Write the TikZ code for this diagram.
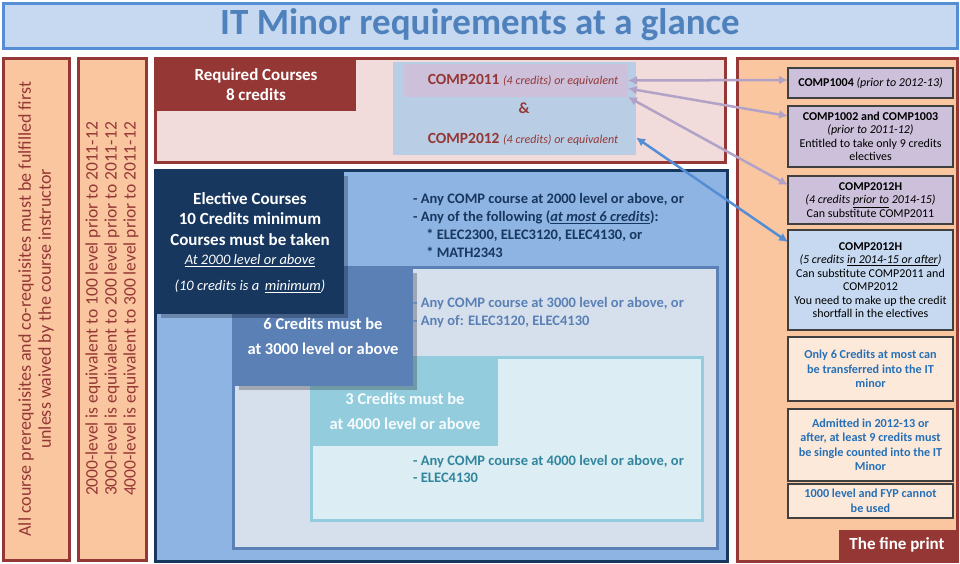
\documentclass[tikz,border=0pt]{standalone}
\usepackage{fontspec}
\setmainfont{Carlito}
\usetikzlibrary{arrows.meta,shadows}

\definecolor{titleblue}{HTML}{4F81BD}
\definecolor{titlefill}{HTML}{C6D9F1}
\definecolor{peach}{HTML}{F9C6A0}
\definecolor{darkred}{HTML}{953735}
\definecolor{reqfill}{HTML}{F2DCDB}
\definecolor{reqblue}{HTML}{B9CDE5}
\definecolor{lilac}{HTML}{CCC0DA}
\definecolor{navy}{HTML}{17375E}
\definecolor{elfill}{HTML}{8EB4E3}
\definecolor{midblue}{HTML}{5A80B5}
\definecolor{greyblue}{HTML}{D6E0EC}
\definecolor{teal}{HTML}{93CDDD}
\definecolor{tealfill}{HTML}{DCEEF4}
\definecolor{tealtext}{HTML}{31859C}
\definecolor{paleblue}{HTML}{C6D9F1}
\definecolor{palepeach}{HTML}{FDE9D9}
\definecolor{noteblue}{HTML}{2570B8}
\definecolor{arrowlilac}{HTML}{B3A2C7}
\definecolor{arrowblue}{HTML}{558ED5}

\newcommand\fsz[2]{\fontsize{#1}{#2}\selectfont}

\tikzset{
  panel/.style={draw, line width=3pt, anchor=north west, inner sep=0pt, outer sep=0pt},
  block/.style={anchor=north west, inner sep=0pt, outer sep=0pt},
  notebox/.style={draw=black!75, line width=1.2pt, anchor=north west, inner sep=0pt,
    outer sep=0pt, minimum width=165pt, align=center, font=\fsz{12}{13.5}},
  finebox/.style={notebox, fill=palepeach, text=noteblue, font=\bfseries\fsz{12.2}{14.5}},
  listtext/.style={anchor=north west, inner sep=0pt, align=left, font=\bfseries\fsz{14.5}{18}},
  link/.style={line width=2.5pt, arrowlilac, {Latex[length=9pt,width=9pt]}-{Latex[length=9pt,width=9pt]}},
  hdshadow/.style={drop shadow={shadow xshift=4pt, shadow yshift=-4pt, opacity=0.25, fill=black}}
}

\begin{document}
\begin{tikzpicture}[x=1pt,y=-1pt]
\useasboundingbox (0,0) rectangle (960,563);

% title
\node[panel, draw=arrowblue, fill=titlefill, minimum width=954pt, minimum height=45pt] (title) at (3,3) {};
\node[text=titleblue, font=\bfseries\fsz{37}{40}] (titletext) at ([yshift=1pt]title.center) {IT Minor requirements at a glance};

% left side notes
\node[panel, draw=darkred, fill=peach, minimum width=66pt, minimum height=502pt] (prereq) at (3,58) {};
\node[rotate=90, align=center, text=darkred, font=\fsz{18}{20}] (prereqtext) at (prereq.center)
  {All course prerequisites and co-requisites must be fulfilled first\\unless waived by the course instructor};
\node[panel, draw=darkred, fill=peach, minimum width=68pt, minimum height=502pt] (levels) at (78,58) {};
\node[rotate=90, align=center, text=darkred, font=\fsz{17.5}{19}] (levelstext) at (levels.center)
  {2000-level is equivalent to 100 level prior to 2011-12\\
   3000-level is equivalent to 200 level prior to 2011-12\\
   4000-level is equivalent to 300 level prior to 2011-12};

% required courses
\node[panel, draw=darkred, fill=reqfill, minimum width=570pt, minimum height=104pt] (req) at (155,58) {};
\node[block, fill=darkred, minimum width=199pt, minimum height=51pt, text=white, align=center,
  font=\bfseries\fsz{17}{20}] (reqhead) at (156.5,59.5) {Required Courses\\8 credits};
\node[block, fill=reqblue, minimum width=243pt, minimum height=93pt] (reqin) at (393,62) {};
\node[block, fill=lilac, minimum width=224pt, minimum height=33pt] (c2011) at (404,64) {};
\node[text=darkred, font=\bfseries\fsz{15.5}{17}] (c2011text) at ([xshift=7pt]c2011.center)
  {COMP2011 {\mdseries\itshape\fsz{12}{13}(4 credits) or equivalent}};
\node[text=darkred, font=\bfseries\fsz{15.5}{17}] (amp) at (524,108) {\&};
\node[text=darkred, font=\bfseries\fsz{15.5}{17}] (c2012) at (523,139)
  {COMP2012 {\mdseries\itshape\fsz{12}{13}(4 credits) or equivalent}};

% elective courses
\node[panel, draw=navy, fill=elfill, minimum width=572pt, minimum height=391pt] (el) at (155,170) {};
\node[panel, draw=midblue, fill=greyblue, minimum width=484pt, minimum height=281pt] (lv3) at (233,267) {};
\node[panel, draw=teal, fill=tealfill, minimum width=391pt, minimum height=163pt] (lv4) at (311,357) {};
\node[block, fill=teal, minimum width=185pt, minimum height=87pt] (lv4head) at (312.5,358.5) {};
\node[text=white!92!teal, align=center, font=\bfseries\fsz{16.5}{25}] (lv4headtext) at (405,411)
  {3 Credits must be\\at 4000 level or above};
\node[block, fill=midblue, hdshadow, minimum width=178pt, minimum height=117pt] (lv3head) at (234.5,268.5) {};
\node[text=white, align=center, font=\bfseries\fsz{16.5}{25}] (lv3headtext) at (323,336)
  {6 Credits must be\\at 3000 level or above};
\node[block, fill=navy, hdshadow, minimum width=187pt, minimum height=142pt] (elhead) at (156.5,171.5) {};
\node[text=white, align=center, font=\bfseries\fsz{17}{20.5}] (elheadtext) at (250,219)
  {Elective Courses\\10 Credits minimum\\Courses must be taken};
\node[text=white, align=center, font=\itshape\fsz{14.5}{26}] (elheadnote) at (250,274)
  {\underline{At 2000 level or above}\\(10 credits is a \,\underline{minimum})};
\node[listtext, text=navy] (eltext) at (413,193)
  {- Any COMP course at 2000 level or above, or\\
   - Any of the following (\underline{\itshape at most 6 credits}):\\
   \hspace*{0.9em}* ELEC2300, ELEC3120, ELEC4130, or\\
   \hspace*{0.9em}* MATH2343};
\node[listtext, text=midblue] (lv3text) at (413,297)
  {- Any COMP course at 3000 level or above, or\\- Any of: ELEC3120, ELEC4130};
\node[listtext, text=tealtext, font=\bfseries\fsz{14.5}{17.5}] (lv4text) at (413,455)
  {- Any COMP course at 4000 level or above, or\\- ELEC4130};

% the fine print
\node[panel, draw=darkred, fill=peach, minimum width=220pt, minimum height=503pt] (fine) at (737,58) {};
\node[block, fill=darkred, minimum width=117pt, minimum height=30pt, text=white,
  font=\bfseries\fsz{17}{18}] (finehead) at (838.5,529.5) {The fine print};
\node[notebox, fill=lilac, minimum height=30pt] (n1004) at (788,68)
  {\textbf{COMP1004} \textit{(prior to 2012-13)}};
\node[notebox, fill=lilac, minimum height=61pt] (n1002) at (788,106)
  {\textbf{COMP1002 and COMP1003}\\\textit{(prior to 2011-12)}\\Entitled to take only 9 credits\\electives};
\node[notebox, fill=lilac, minimum height=48pt] (n2012a) at (788,176)
  {\textbf{COMP2012H}\\\textit{(4 credits \underline{prior to} 2014-15)}\\Can substitute COMP2011};
\node[notebox, fill=paleblue, minimum height=100pt] (n2012b) at (788,230)
  {\textbf{COMP2012H}\\\textit{(5 credits \underline{in 2014-15 or after})}\\Can substitute COMP2011 and\\COMP2012\\You need to make up the credit\\shortfall in the electives};
\node[finebox, minimum height=64pt] (ntransfer) at (788,337)
  {Only 6 Credits at most can\\be transferred into the IT\\minor};
\node[finebox, minimum height=72pt] (nsingle) at (788,409)
  {Admitted in 2012-13 or\\after, at least 9 credits must\\be single counted into the IT\\Minor};
\node[finebox, minimum height=34pt] (nfyp) at (788,484)
  {1000 level and FYP cannot\\be used};

% links
\draw[link] (c2011.east) -- ([yshift=3pt]n1004.west);
\draw[link] ([yshift=-8pt]c2011.east) -- ([yshift=-10pt]n1002.north west);
\draw[link] (c2011.south east) -- ([yshift=-9pt]n2012a.north west);
\draw[link, arrowblue] ([yshift=-29pt]reqin.east) -- ([yshift=-12pt]n2012b.north west);
\end{tikzpicture}
\end{document}
